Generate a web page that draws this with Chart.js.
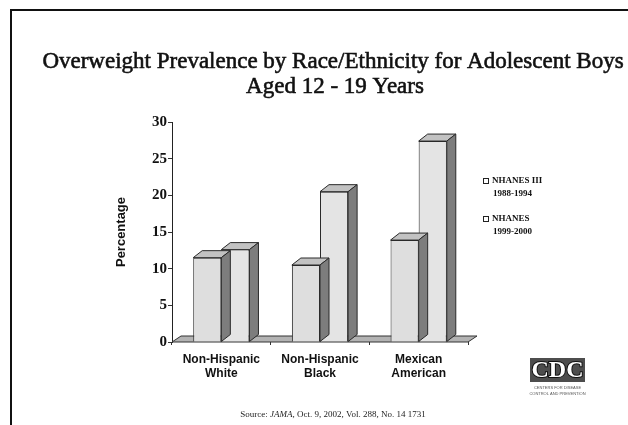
<!DOCTYPE html>
<html>
<head>
<meta charset="utf-8">
<script src="https://cdn.jsdelivr.net/npm/chart.js@4"></script>
<style>
  html, body { margin: 0; padding: 0; background: #fff; }
  canvas { display: block; }
</style>
</head>
<body>
<canvas id="chart" width="628" height="425"></canvas>
<script>
// Overweight prevalence, adolescent boys 12-19
const categories = [['Non-Hispanic', 'White'], ['Non-Hispanic', 'Black'], ['Mexican', 'American']];
const seriesLabels = [['NHANES III', '1988-1994'], ['NHANES', '1999-2000']];
const nhanes3 = [11.5, 10.5, 13.9];
const nhanes99 = [12.6, 20.5, 27.4];
const yMin = 0, yMax = 30, yStep = 5;
const titleLines = ['Overweight Prevalence by Race/Ethnicity for Adolescent Boys', 'Aged 12 - 19 Years'];
const sourceParts = ['Source: ', 'JAMA', ', Oct. 9, 2002, Vol. 288, No. 14 1731'];

const SERIF = '"Liberation Serif", "Times New Roman", serif';
const SANS = '"Liberation Sans", Arial, sans-serif';
const DEPTH_X = 9, DEPTH_Y = -7;

// slide frame, title, legend, logo and source line
const slidePlugin = {
    id: 'slide',
    beforeDraw(chart) {
        const ctx = chart.ctx;
        ctx.save();
        ctx.fillStyle = '#fff';
        ctx.fillRect(0, 0, chart.width, chart.height);
        ctx.strokeStyle = '#111';
        ctx.lineWidth = 2;
        ctx.beginPath();
        ctx.moveTo(11, 425);
        ctx.lineTo(11, 10);
        ctx.lineTo(628, 10);
        ctx.stroke();
        ctx.restore();
    },
    afterDraw(chart) {
        const ctx = chart.ctx;
        ctx.save();
        ctx.fillStyle = '#111';
        ctx.strokeStyle = '#111';
        ctx.lineWidth = 0.6;
        ctx.textAlign = 'center';
        ctx.textBaseline = 'middle';
        ctx.font = '23px ' + SERIF;
        // slightly heavier strokes, like the photocopied slide
        ctx.fillText(titleLines[0], 333, 62);
        ctx.strokeText(titleLines[0], 333, 62);
        ctx.fillText(titleLines[1], 335, 87);
        ctx.strokeText(titleLines[1], 335, 87);

        // legend
        ctx.textAlign = 'left';
        ctx.font = 'bold 9px ' + SERIF;
        const legY = [181, 219];
        seriesLabels.forEach((lines, i) => {
            ctx.fillStyle = '#fff';
            ctx.strokeStyle = '#222';
            ctx.lineWidth = 1;
            ctx.fillRect(483.5, legY[i] - 2.5, 5, 5);
            ctx.strokeRect(483.5, legY[i] - 2.5, 5, 5);
            ctx.fillStyle = '#111';
            lines.forEach((t, j) => ctx.fillText(t, 492 + j, legY[i] + j * 13));
        });

        // CDC logo
        ctx.fillStyle = '#4d4d4d';
        ctx.fillRect(530, 358, 55, 24);
        ctx.font = 'bold 24px ' + SERIF;
        ctx.textAlign = 'center';
        ctx.lineWidth = 2;
        ctx.strokeStyle = '#111';
        ctx.strokeText('CDC', 557.5, 371);
        ctx.fillStyle = '#fff';
        ctx.fillText('CDC', 557.5, 371);
        ctx.fillStyle = '#555';
        ctx.font = '4px ' + SANS;
        ctx.fillText('CENTERS FOR DISEASE', 557.5, 388);
        ctx.fillText('CONTROL AND PREVENTION', 557.5, 394);

        // source line
        const fonts = ['9px ' + SERIF, 'italic 9px ' + SERIF, '9px ' + SERIF];
        let total = 0;
        const widths = sourceParts.map((p, i) => { ctx.font = fonts[i]; const w = ctx.measureText(p).width; total += w; return w; });
        let x = 333 - total / 2;
        ctx.textAlign = 'left';
        ctx.fillStyle = '#222';
        sourceParts.forEach((p, i) => { ctx.font = fonts[i]; ctx.fillText(p, x, 415); x += widths[i]; });
        ctx.restore();
    }
};

// floor under the bars
const floorPlugin = {
    id: 'floor3d',
    beforeDatasetsDraw(chart) {
        const { ctx, chartArea } = chart;
        const y = chartArea.bottom;
        ctx.save();
        ctx.fillStyle = '#b3b3b3';
        ctx.strokeStyle = '#333';
        ctx.lineWidth = 1;
        ctx.beginPath();
        ctx.moveTo(chartArea.left, y);
        ctx.lineTo(chartArea.right, y);
        ctx.lineTo(chartArea.right + DEPTH_X, y + DEPTH_Y + 1);
        ctx.lineTo(chartArea.left + DEPTH_X, y + DEPTH_Y + 1);
        ctx.closePath();
        ctx.fill();
        ctx.stroke();
        ctx.restore();
    }
};

// top and side faces for each bar, drawn right after its dataset
const bar3dPlugin = {
    id: 'bar3d',
    afterDatasetDraw(chart, args) {
        const ctx = chart.ctx;
        const meta = args.meta;
        ctx.save();
        ctx.strokeStyle = '#2a2a2a';
        ctx.lineWidth = 1;
        meta.data.forEach(bar => {
            const { x, y, width, base } = bar.getProps(['x', 'y', 'width', 'base'], true);
            const L = x - width / 2, R = x + width / 2;
            // top
            ctx.fillStyle = '#c2c2c2';
            ctx.beginPath();
            ctx.moveTo(L, y);
            ctx.lineTo(L + DEPTH_X, y + DEPTH_Y);
            ctx.lineTo(R + DEPTH_X, y + DEPTH_Y);
            ctx.lineTo(R, y);
            ctx.closePath();
            ctx.fill();
            ctx.stroke();
            // side
            ctx.fillStyle = '#7d7d7d';
            ctx.beginPath();
            ctx.moveTo(R, y);
            ctx.lineTo(R + DEPTH_X, y + DEPTH_Y);
            ctx.lineTo(R + DEPTH_X, base + DEPTH_Y);
            ctx.lineTo(R, base);
            ctx.closePath();
            ctx.fill();
            ctx.stroke();
        });
        ctx.restore();
    }
};

new Chart(document.getElementById('chart').getContext('2d'), {
    type: 'bar',
    data: {
        labels: categories,
        datasets: [
            {
                label: seriesLabels[0].join(' '),
                data: nhanes3,
                backgroundColor: '#dedede',
                borderColor: '#2a2a2a',
                borderWidth: 1,
                barPercentage: 1.0,
                categoryPercentage: 0.57
            },
            {
                label: seriesLabels[1].join(' '),
                data: nhanes99,
                backgroundColor: '#e4e4e4',
                borderColor: '#2a2a2a',
                borderWidth: 1,
                barPercentage: 1.0,
                categoryPercentage: 0.57
            }
        ]
    },
    options: {
        responsive: false,
        animation: false,
        devicePixelRatio: 1,
        layout: { padding: { left: 110, right: 160, top: 122, bottom: 0 } },
        plugins: {
            legend: { display: false },
            title: { display: false },
            tooltip: { enabled: false }
        },
        scales: {
            x: {
                afterFit: (s) => { s.height = 83; },
                border: { display: false },
                grid: { display: true, drawOnChartArea: false, offset: true, tickLength: 3, color: '#333' },
                ticks: {
                    color: '#111',
                    padding: 7,
                    font: { family: SANS, size: 12, weight: 'bold' }
                }
            },
            y: {
                min: yMin,
                max: yMax,
                afterFit: (s) => { s.width = 62; },
                border: { display: true, color: '#222', width: 1 },
                grid: { drawOnChartArea: false, tickLength: 4, color: '#333' },
                ticks: {
                    stepSize: yStep,
                    color: '#111',
                    padding: 1,
                    font: { family: SERIF, size: 15, weight: 'bold' }
                },
                title: {
                    display: true,
                    text: 'Percentage',
                    color: '#111',
                    font: { family: SANS, size: 13, weight: 'bold' }
                }
            }
        }
    },
    plugins: [slidePlugin, floorPlugin, bar3dPlugin]
});
</script>
</body>
</html>
